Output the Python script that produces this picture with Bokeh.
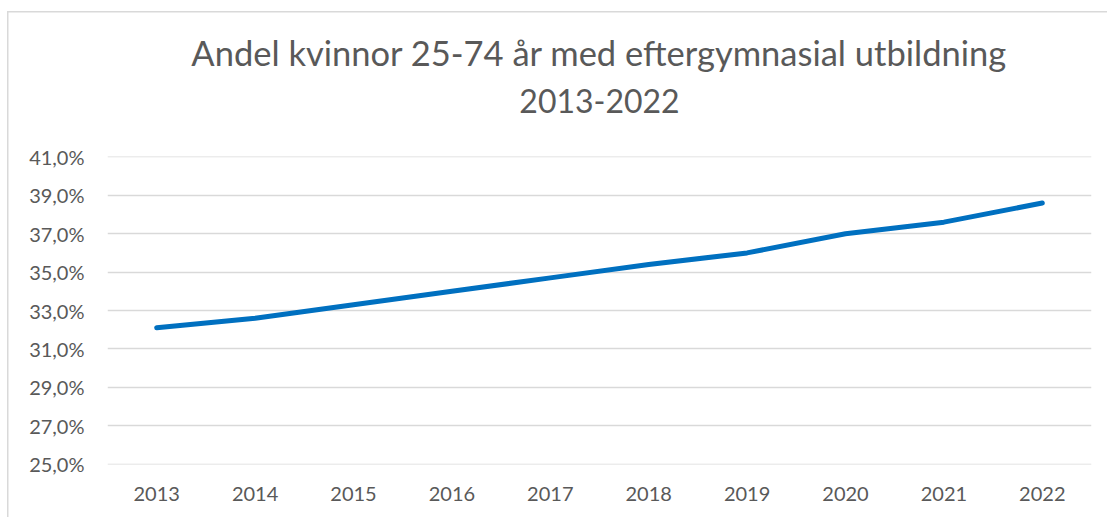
from bokeh.plotting import figure
from bokeh.models import (FactorRange, Range1d, FixedTicker, CustomJSTickFormatter,
                          Title, ColumnDataSource)
from bokeh.embed import file_html
from bokeh.resources import INLINE

years = ["2013", "2014", "2015", "2016", "2017", "2018", "2019", "2020", "2021", "2022"]
andel = [32.1, 32.6, 33.3, 34.0, 34.7, 35.4, 36.0, 37.0, 37.6, 38.6]
y_ticks = [25, 27, 29, 31, 33, 35, 37, 39, 41]
title_line1 = "Andel kvinnor 25-74 år med eftergymnasial utbildning"
title_line2 = "2013-2022"

FONT = "Lato"
TXT = "#595959"

src = ColumnDataSource(dict(year=years, andel=andel))

p = figure(width=1107, height=517, output_backend="svg", toolbar_location=None,
           x_range=FactorRange(*years, range_padding=0),
           y_range=Range1d(24.98, 41.02),
           min_border_left=107, min_border_right=16, min_border_bottom=53,
           min_border_top=156)

p.line(x="year", y="andel", source=src, line_color="#0070C0", line_width=5,
       line_join="round", line_cap="round")

spacer = Title(text=" ", text_font_size="2px", standoff=40)
t2 = Title(text=title_line2, align="center", text_font=FONT, text_font_size="32px",
           text_color=TXT, text_font_style="normal", standoff=0)
t1 = Title(text=title_line1, align="center", text_font=FONT, text_font_size="34.5px",
           text_color=TXT, text_font_style="normal", standoff=27)
p.add_layout(spacer, "above")
p.add_layout(t2, "above")
p.add_layout(t1, "above")

p.yaxis.ticker = FixedTicker(ticks=y_ticks)
p.yaxis.formatter = CustomJSTickFormatter(code="return tick.toFixed(1).replace('.', ',') + '%';")
for ax in (p.xaxis, p.yaxis):
    ax.axis_line_color = None
    ax.major_tick_line_color = None
    ax.minor_tick_line_color = None
    ax.major_tick_in = 0
    ax.major_tick_out = 0
    ax.major_label_text_font = FONT
    ax.major_label_text_font_size = "20px"
    ax.major_label_text_color = TXT
    ax.major_label_standoff = 23
p.xaxis.major_label_standoff = 22

p.xgrid.grid_line_color = None
p.ygrid.ticker = FixedTicker(ticks=y_ticks)
p.ygrid.grid_line_color = "#d9d9d9"
p.ygrid.grid_line_width = 1.3
p.outline_line_color = None

# chart-area border (left and top edges), drawn behind a transparent canvas
p.border_fill_color = None
p.background_fill_color = None
p.styles = {
    "background-color": "white",
    "background-image": "linear-gradient(#d9d9d9, #d9d9d9), linear-gradient(#d9d9d9, #d9d9d9)",
    "background-position": "7px 11px, 7px 11px",
    "background-size": "1.5px 100%, 100% 1.5px",
    "background-repeat": "no-repeat, no-repeat",
}

open("out.html", "w").write(file_html(p, INLINE))
